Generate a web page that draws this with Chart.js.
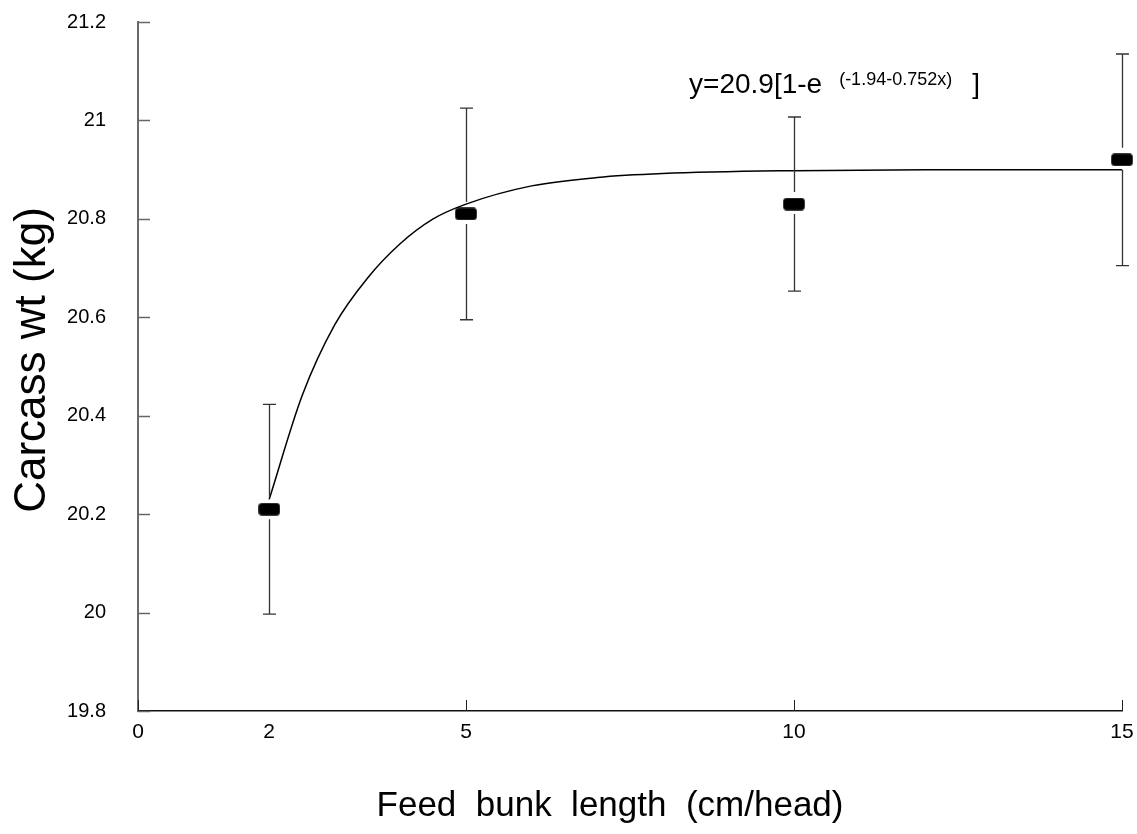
<!DOCTYPE html>
<html>
<head>
<meta charset="utf-8">
<title>Carcass weight vs feed bunk length</title>
<script src="https://cdn.jsdelivr.net/npm/chart.js@4.4.1/dist/chart.umd.min.js"></script>
<style>
    html, body { margin: 0; padding: 0; background: #fff; }
    #wrap { width: 1137px; height: 834px; }
</style>
</head>
<body>
<div id="wrap"><canvas id="carcassChart" width="1137" height="834"></canvas></div>
<script>
// Axis ticks
const xTickValues = [0, 2, 5, 10, 15];
const xTickMarks = [0, 5, 10, 15];

// Treatment means with standard errors
const bunkLength = [2, 5, 10, 15];
const carcassWt = [20.21, 20.81, 20.83, 20.92];
const carcassSE = [0.213, 0.215, 0.177, 0.215];

// Fitted response curve
const fitX = [2, 2.5, 3, 3.5, 4, 4.5, 5, 6, 7, 8, 10, 12, 15];
const fitY = [20.23, 20.44, 20.585, 20.68, 20.75, 20.80, 20.83, 20.867, 20.884, 20.892, 20.898, 20.9, 20.9];

// Equation label anchor (data units)
const eqAnchor = { x: 8.4, y: 21.055 };

const FONT = '"Liberation Sans", Arial, sans-serif';

// Small black rounded block used as the point marker
function makeMarker() {
    const c = document.createElement('canvas');
    c.width = 22;
    c.height = 13;
    const g = c.getContext('2d');
    g.beginPath();
    g.roundRect(0.5, 0.5, 21, 12, 3);
    g.fillStyle = '#000';
    g.fill();
    g.strokeStyle = '#3a3a3a';
    g.lineWidth = 1;
    g.stroke();
    return c;
}

// Error bars, broken around the marker
const errorBars = {
    id: 'errorBars',
    afterDatasetsDraw(chart) {
        const { ctx, scales: { x, y } } = chart;
        ctx.save();
        ctx.strokeStyle = '#333';
        ctx.lineWidth = 1.3;
        bunkLength.forEach((v, i) => {
            const px = Math.round(x.getPixelForValue(v)) + 0.5;
            const top = y.getPixelForValue(carcassWt[i] + carcassSE[i]);
            const bot = y.getPixelForValue(carcassWt[i] - carcassSE[i]);
            const mid = y.getPixelForValue(carcassWt[i]);
            ctx.beginPath();
            ctx.moveTo(px, top);
            ctx.lineTo(px, mid - 12);
            ctx.moveTo(px, mid + 10);
            ctx.lineTo(px, bot);
            ctx.moveTo(px - 6.5, top);
            ctx.lineTo(px + 6.5, top);
            ctx.moveTo(px - 6.5, bot);
            ctx.lineTo(px + 6.5, bot);
            ctx.stroke();
        });
        ctx.restore();
    }
};

// Inward tick marks, axis titles and the fitted equation
const decorations = {
    id: 'decorations',
    afterDraw(chart) {
        const { ctx, chartArea: area, scales: { x, y } } = chart;
        ctx.save();

        ctx.strokeStyle = '#666';
        ctx.lineWidth = 1.5;
        y.ticks.forEach(t => {
            const py = Math.round(y.getPixelForValue(t.value)) + 0.5;
            ctx.beginPath();
            ctx.moveTo(area.left, py);
            ctx.lineTo(area.left + 12, py);
            ctx.stroke();
        });

        ctx.strokeStyle = '#222';
        ctx.lineWidth = 1;
        xTickMarks.forEach(v => {
            const px = Math.round(x.getPixelForValue(v)) + 0.5;
            ctx.beginPath();
            ctx.moveTo(px, area.bottom);
            ctx.lineTo(px, area.bottom - 11);
            ctx.stroke();
        });

        ctx.fillStyle = '#000';
        ctx.textAlign = 'center';
        ctx.textBaseline = 'middle';
        ctx.font = '35px ' + FONT;
        ctx.fillText('Feed  bunk  length  (cm/head)', 610, 806);

        ctx.save();
        ctx.translate(33, 360);
        ctx.rotate(-Math.PI / 2);
        ctx.font = '44px ' + FONT;
        ctx.fillText('Carcass wt (kg)', 0, 0);
        ctx.restore();

        // y=20.9[1-e^(-1.94-0.752x)]
        const ex = x.getPixelForValue(eqAnchor.x);
        const ey = y.getPixelForValue(eqAnchor.y);
        ctx.textAlign = 'left';
        ctx.textBaseline = 'alphabetic';
        ctx.font = '28px ' + FONT;
        const base = 'y=20.9[1-e';
        ctx.fillText(base, ex, ey);
        let cx = ex + ctx.measureText(base).width + 17;
        ctx.font = '18px ' + FONT;
        const sup = '(-1.94-0.752x)';
        ctx.fillText(sup, cx, ey - 8);
        cx += ctx.measureText(sup).width + 20;
        ctx.font = '28px ' + FONT;
        ctx.fillText(']', cx, ey);

        ctx.restore();
    }
};

const ctx = document.getElementById('carcassChart').getContext('2d');
new Chart(ctx, {
    data: {
        datasets: [
            {
                type: 'line',
                label: 'Fit',
                data: fitX.map((v, i) => ({ x: v, y: fitY[i] })),
                borderColor: '#000',
                borderWidth: 1.5,
                pointRadius: 0,
                fill: false,
                clip: false,
                cubicInterpolationMode: 'monotone'
            },
            {
                type: 'scatter',
                label: 'Carcass wt',
                data: bunkLength.map((v, i) => ({ x: v, y: carcassWt[i] })),
                pointStyle: makeMarker(),
                pointRadius: 6,
                clip: false
            }
        ]
    },
    options: {
        responsive: false,
        animation: false,
        events: [],
        layout: { padding: { top: 22, right: 15, bottom: 0, left: 0 } },
        plugins: {
            legend: { display: false },
            tooltip: { enabled: false }
        },
        scales: {
            x: {
                type: 'linear',
                min: 0,
                max: 15,
                grid: { display: false, drawTicks: false },
                border: { display: true, color: '#111', width: 1.5 },
                afterBuildTicks: scale => {
                    scale.ticks = xTickValues.map(v => ({ value: v }));
                },
                afterFit: scale => {
                    scale.height = 123;
                    scale.paddingLeft = 0;
                    scale.paddingRight = 0;
                },
                ticks: {
                    padding: 9,
                    color: '#000',
                    font: { family: FONT, size: 21 },
                    maxRotation: 0,
                    autoSkip: false
                }
            },
            y: {
                type: 'linear',
                min: 19.8,
                max: 21.2,
                grid: { display: false, drawTicks: false },
                border: { display: true, color: '#6a6a6a', width: 2 },
                afterFit: scale => {
                    scale.width = 138;
                    scale.paddingTop = 0;
                    scale.paddingBottom = 0;
                },
                ticks: {
                    stepSize: 0.2,
                    padding: 32,
                    color: '#000',
                    font: { family: FONT, size: 20 },
                    callback: v => String(Number(v.toFixed(1)))
                }
            }
        }
    },
    plugins: [errorBars, decorations]
});
</script>
</body>
</html>
